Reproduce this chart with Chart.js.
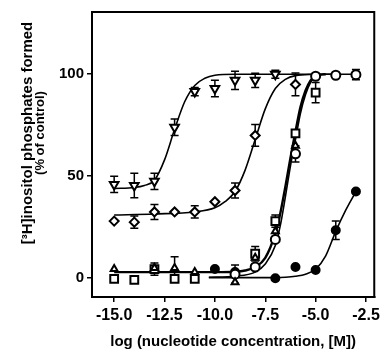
<!DOCTYPE html>
<html>
<head>
<meta charset="utf-8">
<script src="https://cdn.jsdelivr.net/npm/chart.js@4.4.1/dist/chart.umd.min.js"></script>
<style>
  html, body { margin: 0; padding: 0; background: #fff; }
</style>
</head>
<body>
<canvas id="grafico" width="384" height="350"></canvas>
<script>
// eixos
const xTicks = [-15, -12.5, -10, -7.5, -5, -2.5];
const yTicks = [0, 50, 100];
const yTitulo = ["[³H]inositol phosphates formed", "(% of control)"];
const xTitulo = "log (nucleotide concentration, [M])";

// pontos medidos (log M, % do controle) e erros
const xTriBaixo = [-15, -14, -13, -12, -11, -10, -9, -8, -7];
const yTriBaixo = [46, 45.5, 47.5, 74, 91.5, 93, 97, 97, 100];
const eTriBaixo = [4, 6, 4, 4, 2, 4, 4.5, 3.5, 2];

const xLosango = [-15, -14, -13, -12, -11, -10, -9, -8, -6];
const yLosango = [28, 27.5, 32.5, 32.5, 32.5, 37.5, 43, 70, 95];
const eLosango = [0, 3, 3.7, 0, 3, 0, 3.7, 5.3, 5.6];

const xQuadrado = [-15, -14, -13, -12, -11, -8, -7, -6, -5];
const yQuadrado = [-0.3, -0.8, 4.5, -0.3, -0.3, 12, 28, 71, 91];
const eQuadrado = [0, 0, 3, 0, 0, 3.5, 3, 0, 5];

const xTriCima = [-15, -13, -12, -11, -9, -8, -7, -6];
const yTriCima = [4.5, 5, 5, 3, -2, 10, 23, 65];
const eTriCima = [0, 0, 5.5, 0, 0, 0, 0, 0];

const xCirculo = [-9, -8, -7, -6, -5, -4, -3];
const yCirculo = [2, 5.5, 19, 61, 99, 99.5, 99.8];
const eCirculo = [4.5, 0, 0, 4, 0, 0, 2.5];

const xCheio = [-10, -9, -7, -6, -5, -4, -3];
const yCheio = [4.5, 3, 0, 5.5, 4, 23.5, 42.5];
const eCheio = [0, 0, 0, 0, 0, 4.5, 0];

// curvas ajustadas
const xCurvaTri = [-15, -14, -13.5, -13, -12.5, -12, -11.5, -11, -10.5, -10, -9, -8, -6, -4];
const yCurvaTri = [44, 44.5, 45.5, 48, 58, 73, 86.5, 94.5, 98, 99.5, 100, 100, 100, 100];

const xCurvaLos = [-15, -13, -11, -10, -9.5, -9, -8.5, -8, -7.5, -7, -6.5, -6, -5];
const yCurvaLos = [31, 31.5, 32.5, 34.5, 37.5, 42.5, 53, 68, 83, 93, 97.5, 99.3, 100];

const xCurvaQuad = [-15, -12, -10, -9, -8.5, -8, -7.5, -7, -6.75, -6.5, -6.25, -6, -5.75, -5.5, -5.25, -5, -4.5];
const yCurvaQuad = [3, 3, 3, 3.2, 3.8, 5.5, 10, 22, 32, 45, 59, 72, 84, 92, 97, 99.3, 100];

const xCurvaCirc = [-10.3, -9, -8, -7.5, -7, -6.75, -6.5, -6.25, -6, -5.75, -5.5, -5.25, -5, -4.5, -4, -3];
const yCurvaCirc = [0.5, 1, 3, 7, 16, 26, 40, 55, 68, 81, 90, 96, 99, 100, 100, 100];

const xCurvaCheio = [-10.3, -8, -7, -6.5, -6, -5.5, -5, -4.5, -4, -3.5, -3];
const yCurvaCheio = [0.3, 0.3, 0.3, 0.5, 1, 2, 4.5, 11, 23, 33.5, 42.5];

(function () {
  const pares = (xs, ys) => xs.map((x, i) => ({ x, y: ys[i] }));
  const FONTE = "'Liberation Sans', Arial, sans-serif";

  function curva(xs, ys, largura) {
    return {
      data: pares(xs, ys),
      showLine: true,
      borderColor: "#000",
      borderWidth: largura || 1.6,
      pointRadius: 0,
      cubicInterpolationMode: "monotone",
      order: 2
    };
  }

  function marcadores(xs, ys, erros, estilo, raio, extra) {
    return Object.assign({
      data: pares(xs, ys),
      erros,
      showLine: false,
      pointStyle: estilo,
      pointRadius: raio,
      pointBackgroundColor: "#fff",
      pointBorderColor: "#000",
      pointBorderWidth: 2,
      order: 1
    }, extra || {});
  }

  // barras de erro desenhadas antes dos marcadores
  const barrasErro = {
    id: "barrasErro",
    beforeDatasetsDraw(chart) {
      const { ctx, scales: { x, y } } = chart;
      ctx.save();
      ctx.strokeStyle = "#000";
      ctx.lineWidth = 1.5;
      chart.data.datasets.forEach(ds => {
        if (!ds.erros) return;
        ds.data.forEach((p, i) => {
          const e = ds.erros[i];
          if (!e) return;
          const px = x.getPixelForValue(p.x);
          const y1 = y.getPixelForValue(p.y - e);
          const y2 = y.getPixelForValue(p.y + e);
          ctx.beginPath();
          ctx.moveTo(px, y1); ctx.lineTo(px, y2);
          ctx.moveTo(px - 4, y1); ctx.lineTo(px + 4, y1);
          ctx.moveTo(px - 4, y2); ctx.lineTo(px + 4, y2);
          ctx.stroke();
        });
      });
      ctx.restore();
    }
  };

  // moldura + título do eixo y
  const moldura = {
    id: "moldura",
    afterDraw(chart) {
      const { ctx, chartArea: a } = chart;
      ctx.save();
      ctx.strokeStyle = "#000";
      ctx.lineWidth = 2;
      ctx.strokeRect(a.left, a.top, a.right - a.left, a.bottom - a.top);

      ctx.fillStyle = "#000";
      ctx.textAlign = "center";
      ctx.textBaseline = "alphabetic";
      ctx.translate(32, 133);
      ctx.rotate(-Math.PI / 2);
      ctx.font = "bold 15px " + FONTE;
      ctx.fillText(yTitulo[0], 0, 0);
      ctx.font = "bold 13px " + FONTE;
      ctx.fillText(yTitulo[1], 0, 12);
      ctx.restore();
    }
  };

  new Chart(document.getElementById("grafico"), {
    type: "scatter",
    data: {
      datasets: [
        curva(xCurvaTri, yCurvaTri),
        curva(xCurvaLos, yCurvaLos),
        curva(xCurvaQuad, yCurvaQuad, 2.4),
        curva(xCurvaCirc, yCurvaCirc),
        curva(xCurvaCheio, yCurvaCheio),
        marcadores(xTriBaixo, yTriBaixo, eTriBaixo, "triangle", 5, { rotation: 180 }),
        marcadores(xLosango, yLosango, eLosango, "rectRot", 4.5),
        marcadores(xTriCima, yTriCima, eTriCima, "triangle", 4),
        marcadores(xQuadrado, yQuadrado, eQuadrado, "rect", 5.5),
        marcadores(xCirculo, yCirculo, eCirculo, "circle", 4.5),
        marcadores(xCheio, yCheio, eCheio, "circle", 4, { pointBackgroundColor: "#000" })
      ]
    },
    options: {
      responsive: false,
      animation: false,
      devicePixelRatio: 1,
      layout: { padding: { left: 0, right: 7, top: 9, bottom: 0 } },
      plugins: { legend: { display: false }, tooltip: { enabled: false } },
      scales: {
        x: {
          type: "linear",
          min: -16.1,
          max: -2.09,
          afterBuildTicks: s => { s.ticks = xTicks.map(v => ({ value: v })); },
          afterFit: s => { s.height = 53; },
          grid: { drawOnChartArea: false, drawTicks: true, tickLength: 5, color: "#000", lineWidth: 1.5 },
          border: { display: true, color: "#000", width: 2 },
          ticks: {
            color: "#000",
            padding: 4,
            maxRotation: 0,
            font: { family: FONTE, size: 16, weight: "bold" },
            callback: v => Number(v).toFixed(1)
          },
          title: {
            display: true,
            text: xTitulo,
            color: "#000",
            padding: { top: 0, bottom: 1 },
            font: { family: FONTE, size: 15, weight: "bold", lineHeight: 1 }
          }
        },
        y: {
          type: "linear",
          min: -9.2,
          max: 130.5,
          afterBuildTicks: s => { s.ticks = yTicks.map(v => ({ value: v })); },
          afterFit: s => { s.width = 92; },
          grid: { drawOnChartArea: false, drawTicks: true, tickLength: 5, color: "#000", lineWidth: 1.5 },
          border: { display: true, color: "#000", width: 2 },
          ticks: {
            color: "#000",
            padding: 3,
            font: { family: FONTE, size: 15, weight: "bold" }
          }
        }
      }
    },
    plugins: [barrasErro, moldura]
  });
})();
</script>
</body>
</html>
